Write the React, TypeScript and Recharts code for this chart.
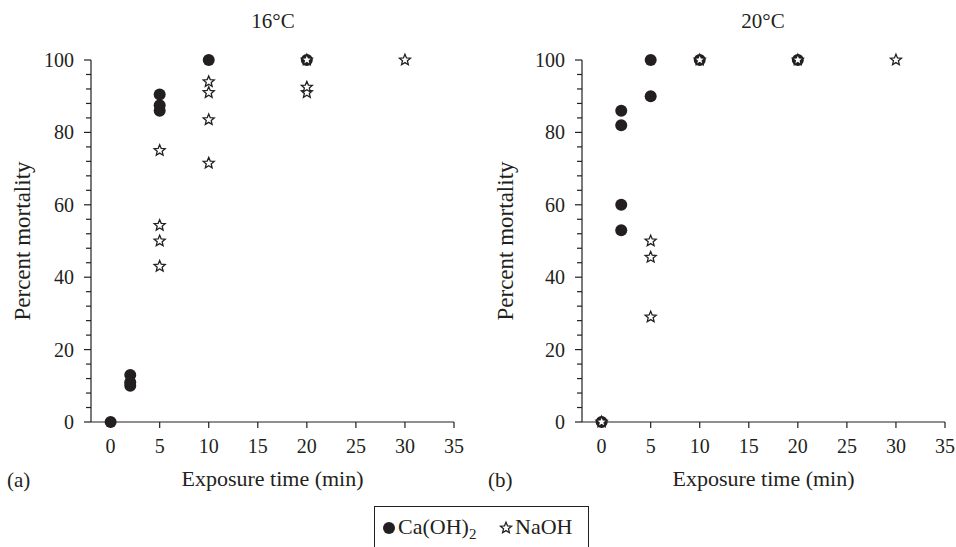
import React from 'react';
import { ScatterChart, Scatter, XAxis, YAxis } from 'recharts';

// exposure time (min) vs percent mortality
const ca16 = [
  { x: 0, y: 0 }, { x: 2, y: 10 }, { x: 2, y: 11 }, { x: 2, y: 13 },
  { x: 5, y: 86 }, { x: 5, y: 87.5 }, { x: 5, y: 90.5 },
  { x: 10, y: 100 }, { x: 20, y: 100 },
];
const naoh16 = [
  { x: 5, y: 43 }, { x: 5, y: 50 }, { x: 5, y: 54.3 }, { x: 5, y: 75 },
  { x: 10, y: 71.5 }, { x: 10, y: 83.5 }, { x: 10, y: 91 }, { x: 10, y: 94 },
  { x: 20, y: 91 }, { x: 20, y: 92.5 }, { x: 20, y: 100 }, { x: 30, y: 100 },
];
const ca20 = [
  { x: 0, y: 0 }, { x: 2, y: 53 }, { x: 2, y: 60 }, { x: 2, y: 82 }, { x: 2, y: 86 },
  { x: 5, y: 90 }, { x: 5, y: 100 }, { x: 10, y: 100 }, { x: 20, y: 100 },
];
const naoh20 = [
  { x: 0, y: 0 }, { x: 5, y: 29 }, { x: 5, y: 45.5 }, { x: 5, y: 50 },
  { x: 10, y: 100 }, { x: 20, y: 100 }, { x: 30, y: 100 },
];

const xTicks = [0, 5, 10, 15, 20, 25, 30, 35];
// minor ticks every 4, labelled ones every 20
const yTicks = [0, 4, 8, 12, 16, 20, 24, 28, 32, 36, 40, 44, 48, 52, 56, 60, 64, 68, 72, 76, 80, 84, 88, 92, 96, 100];

const INK = '#231f20';
const FONT = '"Liberation Serif", "Times New Roman", serif';

const starPoints = (cx: number, cy: number, R: number, r: number) => {
  const pts: string[] = [];
  for (let i = 0; i < 10; i++) {
    const a = -Math.PI / 2 + (i * Math.PI) / 5;
    const rad = i % 2 === 0 ? R : r;
    pts.push(`${cx + rad * Math.cos(a)},${cy + rad * Math.sin(a)}`);
  }
  return pts.join(' ');
};

const Dot = (props: any) => <circle cx={props.cx} cy={props.cy} r={6} fill={INK} />;
const Star = (props: any) => (
  <polygon points={starPoints(props.cx, props.cy, 5.8, 2.6)} fill="#fff" stroke={INK} strokeWidth={1.3} strokeLinejoin="miter" />
);

const YTick = (props: any) => {
  const { x, y, payload } = props;
  const major = payload.value % 20 === 0;
  return (
    <g>
      <line x1={x - (major ? 7 : 5)} x2={x} y1={y} y2={y} stroke={INK} strokeWidth={1.2} />
      {major && (
        <text x={x - 17} y={y} dy="0.35em" textAnchor="end" fill={INK} fontSize={20} fontFamily={FONT}>
          {payload.value}
        </text>
      )}
    </g>
  );
};

function Panel({ ca, naoh, axisWidth, titleOffset }: { ca: any[]; naoh: any[]; axisWidth: number; titleOffset: number }) {
  return (
    <ScatterChart width={axisWidth + 378} height={500} margin={{ top: 60, right: 15, bottom: 14, left: 0 }}>
      <XAxis
        type="number"
        dataKey="x"
        domain={[-2, 35]}
        ticks={xTicks}
        allowDataOverflow
        height={64}
        stroke={INK}
        strokeWidth={1.2}
        tickSize={6}
        tickMargin={11}
        tick={{ fill: INK, fontSize: 20, fontFamily: FONT }}
        label={{ value: 'Exposure time (min)', position: 'insideBottom', offset: 0, fill: INK, fontSize: 22, fontFamily: FONT }}
      />
      <YAxis
        type="number"
        dataKey="y"
        domain={[0, 100]}
        ticks={yTicks}
        interval={0}
        width={axisWidth}
        stroke={INK}
        strokeWidth={1.2}
        tickLine={false}
        tickSize={0}
        tickMargin={0}
        tick={<YTick />}
        label={{
          value: 'Percent mortality',
          angle: -90,
          position: 'insideLeft',
          offset: titleOffset,
          fill: INK,
          fontSize: 23,
          fontFamily: FONT,
          style: { textAnchor: 'middle' },
        }}
      />
      <Scatter name="Ca(OH)2" data={ca} shape={<Dot />} isAnimationActive={false} />
      <Scatter name="NaOH" data={naoh} shape={<Star />} isAnimationActive={false} />
    </ScatterChart>
  );
}

const textStyle: React.CSSProperties = { position: 'absolute', fontFamily: FONT, fontSize: 21, color: INK, lineHeight: '22px', whiteSpace: 'nowrap' };

export default function App() {
  return (
    <div style={{ position: 'absolute', left: 0, top: 0, width: 956, height: 547, background: '#fff', overflow: 'hidden' }}>
      <div style={{ position: 'absolute', left: 0, top: 0 }}>
        <Panel ca={ca16} naoh={naoh16} axisWidth={91} titleOffset={22} />
      </div>
      <div style={{ position: 'absolute', left: 490, top: 0 }}>
        <Panel ca={ca20} naoh={naoh20} axisWidth={92} titleOffset={15} />
      </div>

      <div style={{ ...textStyle, left: 233, top: 10, width: 80, textAlign: 'center' }}>16°C</div>
      <div style={{ ...textStyle, left: 723, top: 10, width: 80, textAlign: 'center' }}>20°C</div>
      <div style={{ ...textStyle, left: 7, top: 469 }}>(a)</div>
      <div style={{ ...textStyle, left: 488, top: 469 }}>(b)</div>

      <div style={{ position: 'absolute', left: 374, top: 506, width: 213, height: 60, border: `1.5px solid ${INK}` }}>
        <svg width={16} height={16} style={{ position: 'absolute', left: 6, top: 13 }}>
          <circle cx={8} cy={8} r={6} fill={INK} />
        </svg>
        <div style={{ ...textStyle, fontSize: 22, left: 23, top: 9 }}>
          Ca(OH)<sub style={{ fontSize: 15, verticalAlign: '-5px', lineHeight: 0 }}>2</sub>
        </div>
        <svg width={16} height={16} style={{ position: 'absolute', left: 123, top: 13 }}>
          <polygon points={starPoints(8, 8, 5.8, 2.6)} fill="#fff" stroke={INK} strokeWidth={1.3} />
        </svg>
        <div style={{ ...textStyle, fontSize: 22, left: 140, top: 9 }}>NaOH</div>
      </div>
    </div>
  );
}
